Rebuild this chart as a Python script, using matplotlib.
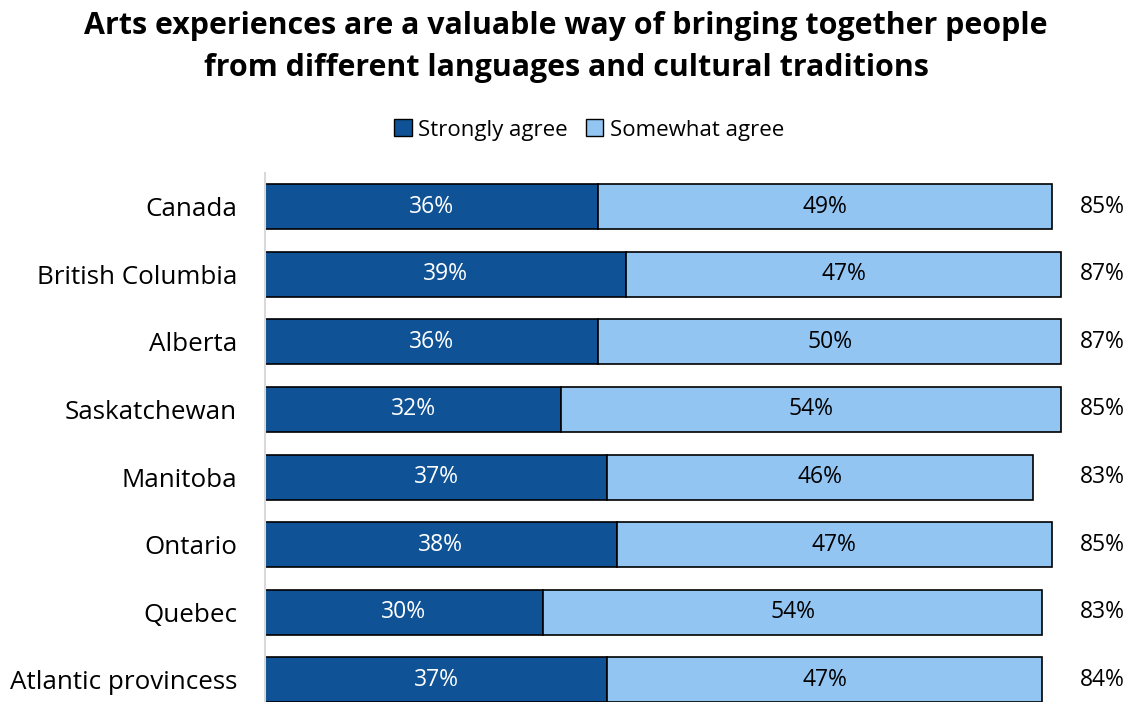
import matplotlib.pyplot as plt
from matplotlib.patches import Patch

plt.rcParams['font.family'] = ['Open Sans', 'DejaVu Sans']

regions = ['Canada', 'British Columbia', 'Alberta', 'Saskatchewan',
           'Manitoba', 'Ontario', 'Quebec', 'Atlantic provincess']
strongly = [36, 39, 36, 32, 37, 38, 30, 37]
somewhat = [49, 47, 50, 54, 46, 47, 54, 47]
totals = [85, 87, 87, 85, 83, 85, 83, 84]

dark = '#0F5396'
light = '#93C5F3'

fig = plt.figure(figsize=(11.32, 7.02), dpi=100)
ax = fig.add_axes([265 / 1132, -11.75 / 702, 833 / 1132, 541 / 702])

y = list(range(len(regions)))
ax.barh(y, strongly, height=0.667, color=dark, edgecolor='black', linewidth=1.2)
ax.barh(y, somewhat, left=strongly, height=0.667, color=light,
        edgecolor='black', linewidth=1.2)

for i in y:
    ax.text(strongly[i] / 2, i, f'{strongly[i]}%', ha='center', va='center',
            color='white', fontsize=16.5)
    ax.text(strongly[i] + somewhat[i] / 2, i, f'{somewhat[i]}%', ha='center',
            va='center', color='black', fontsize=16.5)
    ax.text(88, i, f'{totals[i]}%', ha='left', va='center', color='black',
            fontsize=16.5)

ax.set_xlim(0, 90)
ax.set_ylim(len(regions) - 0.5, -0.5)
ax.set_yticks(y)
ax.set_yticklabels(regions, fontsize=18.7)
ax.tick_params(axis='y', length=0, pad=20)
ax.set_xticks([])
for side in ['top', 'right', 'bottom']:
    ax.spines[side].set_visible(False)
ax.spines['left'].set_color('#d9d9d9')
ax.spines['left'].set_linewidth(1.5)

# two-line bold title
fig.text(0.5, 1 - 26 / 702, 'Arts experiences are a valuable way of bringing together people',
         ha='center', va='center', fontsize=21.9, fontweight='bold')
fig.text(0.5, 1 - 68 / 702, 'from different languages and cultural traditions',
         ha='center', va='center', fontsize=21.9, fontweight='bold')

handles = [Patch(facecolor=dark, edgecolor='black', label='Strongly agree'),
           Patch(facecolor=light, edgecolor='black', label='Somewhat agree')]
fig.legend(handles=handles, loc='center', bbox_to_anchor=(589 / 1132, 1 - 130 / 702),
           ncol=2, frameon=False, fontsize=16, handlelength=0.8,
           handleheight=0.8, handletextpad=0.3, columnspacing=0.8)

fig.savefig('out.png', dpi=100)
